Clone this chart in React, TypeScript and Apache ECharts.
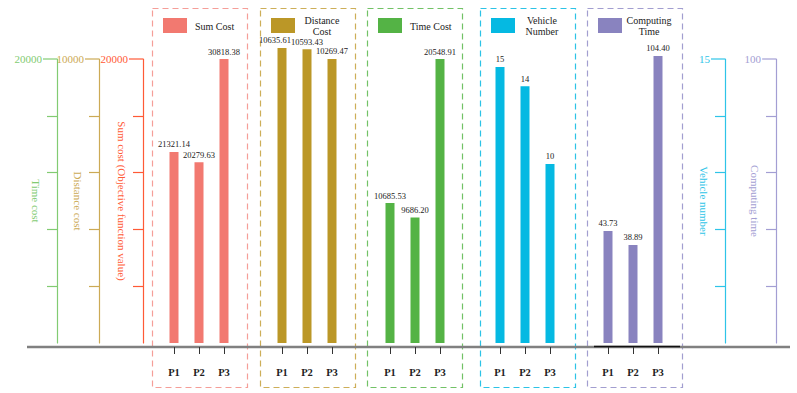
import React, { useEffect, useRef } from "react";
import * as echarts from "echarts";

const categories = ["P1", "P2", "P3"];
const sumCost = [21321.14, 20279.63, 30818.38];
const distanceCost = [10635.61, 10593.43, 10269.47];
const timeCost = [10685.53, 9686.2, 20548.91];
const vehicleNumber = [15, 14, 10];
const computingTime = [43.73, 38.89, 104.4];

const panelNames = ["Sum Cost", "Distance\nCost", "Time Cost", "Vehicle\nNumber", "Computing\nTime"];
const decoAxisNames = ["Time cost", "Distance cost", "Sum cost (Objective function value)", "Vehicle number", "Computing time"];
const decoAxisMax = [20000, 10000, 20000, 15, 100];

const FONT = "Liberation Serif";

// layout / style (not data)
const panelColors = ["#F27970", "#BB9727", "#54B345", "#05B9E2", "#8983BF"];
const boxColors = ["#F59E98", "#CDAE58", "#72C266", "#2CC3E6", "#A29ED0"];
const boxLefts = [152, 260, 367, 480, 587];
const barCenters = [174, 282, 390, 500, 608];
const GRID_BOTTOM = 343;
// per panel: grid top (px), value-axis min and max
const panelTops = [59, 45, 59, 59, 50];
const panelRanges: [number, number][] = [
  [1810, 30818.38],
  [818, 10735],
  [1097, 20548.91],
  [0.77, 15.41],
  [4.9, 106.46],
];
const decoAxisX = [57, 99, 143, 725, 776];
const decoColors = ["#82CB72", "#CCAA55", "#FF5A36", "#2EC4E8", "#A39ED3"];

const DECO_TOP = 59;
const DECO_H = 284;

export default function App() {
  const ref = useRef<HTMLDivElement>(null);
  useEffect(() => {
    if (!ref.current) return;
    const chart = echarts.init(ref.current, undefined, { renderer: "svg" });
    const seriesValues = [sumCost, distanceCost, timeCost, vehicleNumber, computingTime];

    const grid: any[] = [];
    const xAxis: any[] = [];
    const yAxis: any[] = [];
    const series: any[] = [];
    const graphic: any[] = [];

    seriesValues.forEach((vals, i) => {
      grid.push({
        left: barCenters[i] - 12.5,
        top: panelTops[i],
        width: 75,
        height: GRID_BOTTOM - panelTops[i],
      });
      xAxis.push({
        type: "category",
        gridIndex: i,
        data: categories,
        offset: 4,
        axisLine: { show: false },
        axisTick: { show: true, alignWithLabel: true, length: 7, lineStyle: { color: "#333", width: 1 } },
        axisLabel: { margin: 20, fontSize: 10.5, fontWeight: "bold", color: "#222", fontFamily: FONT },
      });
      yAxis.push({
        type: "value",
        gridIndex: i,
        min: panelRanges[i][0],
        max: panelRanges[i][1],
        show: false,
        splitLine: { show: false },
      });
      series.push({
        type: "bar",
        name: panelNames[i].replace("\n", " "),
        xAxisIndex: i,
        yAxisIndex: i,
        barWidth: 9,
        itemStyle: { color: panelColors[i] },
        label: {
          show: true,
          position: "top",
          distance: 3,
          fontSize: 8.5,
          color: "#222",
          fontFamily: FONT,
          formatter: (p: any) => (i === 3 ? String(p.value) : Number(p.value).toFixed(2)),
        },
        data: vals.map((v, k) => (i === 1 && k === 0 ? { value: v, label: { offset: [-7, 0] } } : v)),
      });

      graphic.push({
        type: "rect",
        shape: { x: boxLefts[i] + 0.5, y: 8.5, width: 95, height: 379 },
        style: { fill: "none", stroke: boxColors[i], lineWidth: 1.2, lineDash: [6, 4] },
        silent: true,
      });
      graphic.push({
        type: "rect",
        shape: { x: boxLefts[i] + 11, y: 18, width: 24, height: 15 },
        style: { fill: panelColors[i] },
        silent: true,
      });
      const twoLine = panelNames[i].includes("\n");
      graphic.push({
        type: "text",
        x: twoLine ? boxLefts[i] + 62 : boxLefts[i] + 43,
        y: 26,
        style: {
          text: panelNames[i],
          fontSize: 10,
          fontFamily: FONT,
          fill: "#222",
          align: twoLine ? "center" : "left",
          verticalAlign: "middle",
          lineHeight: 11,
        },
        silent: true,
      });
    });

    decoAxisX.forEach((x, j) => {
      const gi = grid.length;
      const max = decoAxisMax[j];
      grid.push({ left: x, top: DECO_TOP, width: 5, height: DECO_H });
      xAxis.push({ type: "value", gridIndex: gi, show: false });
      yAxis.push({
        type: "value",
        gridIndex: gi,
        position: "left",
        min: 0,
        max,
        interval: max / 5,
        axisLine: { show: true, lineStyle: { color: decoColors[j], width: 1.2 } },
        axisTick: {
          show: true,
          length: 10,
          customValues: [1, 2, 3, 4].map((k) => (k * max) / 5),
          lineStyle: { color: decoColors[j], width: 1.2 },
        },
        axisLabel: {
          customValues: [max],
          formatter: (v: number) => String(v),
          margin: 15,
          fontSize: 11,
          color: decoColors[j],
          fontFamily: FONT,
        },
        splitLine: { show: false },
        name: decoAxisNames[j],
        nameLocation: "middle",
        nameRotate: -90,
        nameGap: 16,
        nameMoveOverlap: false,
        nameTextStyle: { fontSize: 11, color: decoColors[j], fontFamily: FONT },
      });
      graphic.push({
        type: "line",
        shape: { x1: x - 14, y1: DECO_TOP, x2: x, y2: DECO_TOP },
        style: { stroke: decoColors[j], lineWidth: 1.2 },
        silent: true,
      });
    });

    graphic.push({
      type: "line",
      shape: { x1: 27, y1: 347, x2: 790, y2: 347 },
      style: { stroke: "#808080", lineWidth: 2.5 },
      silent: true,
    });
    graphic.push({
      type: "line",
      shape: { x1: 594, y1: 346.5, x2: 680, y2: 346.5 },
      style: { stroke: "#111", lineWidth: 1.5 },
      silent: true,
    });

    chart.setOption({
      animation: false,
      textStyle: { fontFamily: FONT },
      grid,
      xAxis,
      yAxis,
      series,
      graphic,
    });
    return () => chart.dispose();
  }, []);
  return <div ref={ref} style={{ width: 797, height: 393, position: "absolute", left: 0, top: 0 }} />;
}
